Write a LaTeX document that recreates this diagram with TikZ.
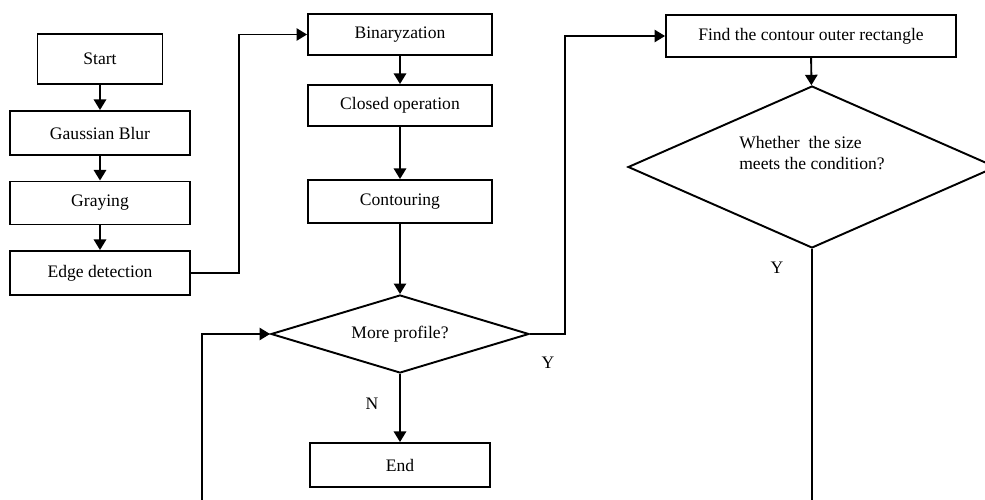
\documentclass[tikz,border=0pt]{standalone}
\usepackage{fontspec}
\setmainfont{Liberation Serif}
\usetikzlibrary{shapes.geometric,arrows.meta}
\tikzset{
  stepbox/.style={draw, line width=1.1pt, inner sep=0pt, font=\fontsize{10}{12}\selectfont},
  decide/.style={draw, diamond, line width=1.1pt, inner sep=0pt, font=\fontsize{10}{12}\selectfont},
  flow/.style={line width=1.1pt, -{Triangle[length=6pt,width=7pt]}},
  yn/.style={font=\fontsize{10}{12}\selectfont}
}

\begin{document}
\begin{tikzpicture}[x=0.02cm,y=-0.02cm]
		%%%%% START %%%%%
		\useasboundingbox (0,0) rectangle (985,500);
		\clip (0,0) rectangle (985,500);
		
		% left column
		\node[stepbox, minimum width=2.5cm, minimum height=1cm] (start) at (100,59) {Start};
		\node[stepbox, minimum width=3.6cm, minimum height=0.88cm] (gauss) at (100,133) {Gaussian Blur};
		\node[stepbox, minimum width=3.6cm, minimum height=0.86cm] (gray) at (100,203) {Graying};
		\node[stepbox, minimum width=3.6cm, minimum height=0.88cm] (edge) at (100,273) {Edge detection};
		
		% middle column
		\node[stepbox, minimum width=3.68cm, minimum height=0.82cm] (binar) at (400,34.5) {Binaryzation};
		\node[stepbox, minimum width=3.68cm, minimum height=0.82cm] (closed) at (400,105.5) {Closed operation};
		\node[stepbox, minimum width=3.68cm, minimum height=0.86cm] (contour) at (400,201.5) {Contouring};
		\node[decide, shape aspect=3.3, minimum width=5.16cm, minimum height=1.56cm] (more) at (400,334) {More profile?};
		\node[stepbox, minimum width=3.6cm, minimum height=0.88cm] (endbox) at (400,465) {End};
		
		% right column
		\node[stepbox, minimum width=5.8cm, minimum height=0.84cm] (find) at (811,36) {Find the contour outer rectangle};
		\node[decide, shape aspect=2.27, minimum width=7.36cm, minimum height=3.24cm, align=left] (size) at (812,167) {Whether \ the size\\meets the condition?\\[4pt]};
		
		\node[yn] (nlbl) at (372,404) {N};
		\node[yn] (ylbl) at (548,363) {Y};
		\node[yn] (ylbl2) at (777,268) {Y};
		\coordinate (loop) at (202,530);
		
		\draw[flow] (start) -- (gauss);
		\draw[flow] (gauss) -- (gray);
		\draw[flow] (gray) -- (edge);
		\draw[flow] (edge.east) -- ++(48,0) |- (binar.west);
		\draw[flow] (binar) -- (closed);
		\draw[flow] (closed) -- (contour);
		\draw[flow] (contour) -- (more);
		\draw[flow] (more) -- (endbox);
		\draw[flow] (more.east) -- ++(35,0) |- (find.west);
		\draw[flow] (find) -- (size);
		\draw[flow] (size.south) |- (loop) |- (more.west);
		
		%%%%% END %%%%%
\end{tikzpicture}
\end{document}
